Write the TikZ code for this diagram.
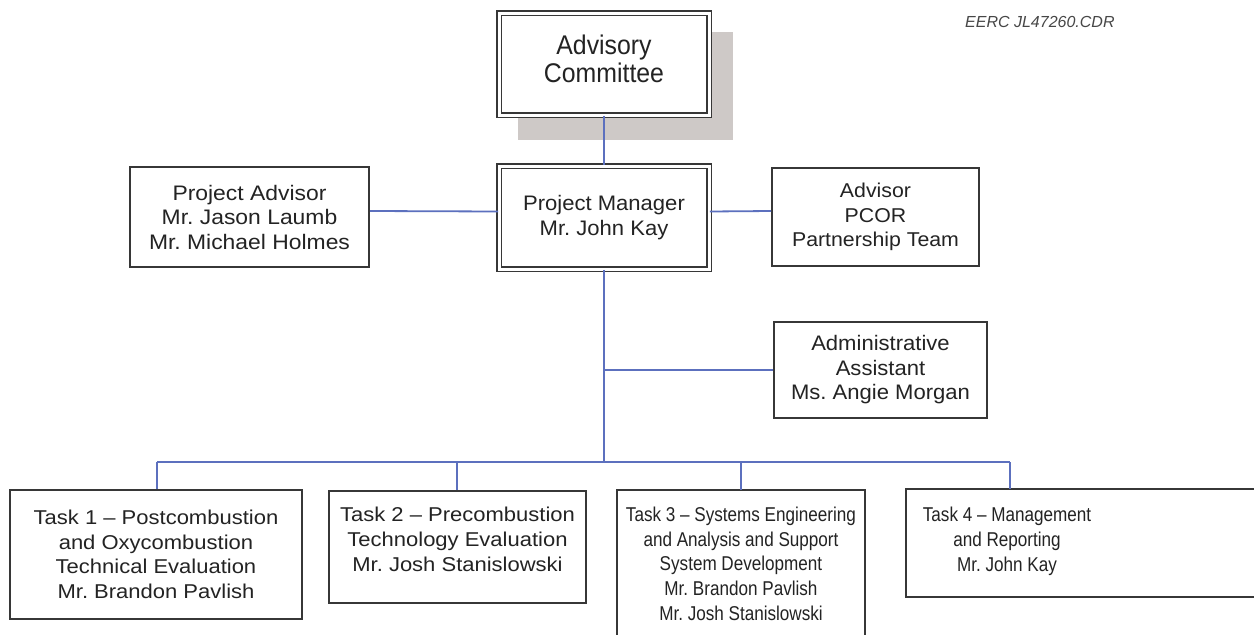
\documentclass[tikz,border=0pt]{standalone}
\usepackage{fontspec}
\setmainfont[Ligatures=TeX]{Liberation Sans}
\newfontfamily\stA[Ligatures=TeX,FakeStretch=0.92]{Liberation Sans}
\newfontfamily\stB[Ligatures=TeX,FakeStretch=1.05]{Liberation Sans}
\newfontfamily\stC[Ligatures=TeX,FakeStretch=1.09]{Liberation Sans}
\newfontfamily\stD[Ligatures=TeX,FakeStretch=1.065]{Liberation Sans}
\newfontfamily\stE[Ligatures=TeX,FakeStretch=1.1]{Liberation Sans}
\newfontfamily\stF[Ligatures=TeX,FakeStretch=0.855]{Liberation Sans}
\usetikzlibrary{calc}
\definecolor{conncol}{RGB}{92,112,190}
\definecolor{boxcol}{RGB}{55,55,55}
\definecolor{txtcol}{RGB}{35,35,35}
\definecolor{shadowcol}{RGB}{206,201,199}
\tikzset{
  x=1pt, y=-1pt,
  conn/.style={draw=conncol, line width=1.8pt},
  boxline/.style={draw=boxcol, line width=2pt},
  plainbox/.style={boxline, fill=white, text=txtcol, align=center, inner sep=0pt},
  dblbox/.style={draw=boxcol, line width=1.6pt, double=white, double distance=3pt,
    fill=white, text=txtcol, align=center, inner sep=0pt},
  boxtext/.style={text=txtcol, align=center, inner sep=0pt},
}
\begin{document}
\frenchspacing
\begin{tikzpicture}
\useasboundingbox (0,0) rectangle (1254,635);
\clip (0,0) rectangle (1254,635);
\fill[white] (0,0) rectangle (1254,635);

% label
\node[anchor=base west, inner sep=0pt, text=black!72,
  font=\fontsize{16}{18}\selectfont\itshape] (code) at (965,27) {EERC JL47260.CDR};

% shadow of advisory committee
\fill[shadowcol] (518,32) rectangle (733,140);

% top boxes
\node[dblbox, minimum width=210, minimum height=102] (ac) at (604,64) {};
\node[boxtext, font=\stA\fontsize{27}{28}\selectfont] (actxt) at (604,59.2) {Advisory\\Committee};
\node[dblbox, minimum width=210, minimum height=103,
  font=\stB\fontsize{21}{25}\selectfont] (pm) at (604,217.5) {Project Manager\\Mr. John Kay};

\node[plainbox, minimum width=239, minimum height=100,
  font=\stC\fontsize{21}{24.5}\selectfont] (pa) at (249.5,217)
  {Project Advisor\\Mr. Jason Laumb\\Mr. Michael Holmes};
\node[plainbox, minimum width=207, minimum height=98,
  font=\stD\fontsize{20}{24.5}\selectfont] (pcor) at (875.5,217)
  {Advisor\\PCOR\\Partnership Team};
\node[plainbox, minimum width=213, minimum height=96,
  font=\stB\fontsize{21}{24.5}\selectfont] (admin) at (880.5,370)
  {Administrative\\Assistant\\Ms. Angie Morgan};

% task boxes
\node[plainbox, minimum width=292, minimum height=129,
  font=\stE\fontsize{20}{24.6}\selectfont] (t1) at (156,554.5)
  {Task 1 – Postcombustion\\and Oxycombustion\\Technical Evaluation\\Mr. Brandon Pavlish};

\node[plainbox, minimum width=257, minimum height=112] (t2) at (457.5,547) {};
\node[boxtext, font=\stE\fontsize{20}{24.6}\selectfont] (t2txt) at (457.5,539.3)
  {Task 2 – Precombustion\\Technology Evaluation\\Mr. Josh Stanislowski};

% Task 3 box runs past the lower edge
\draw[boxline, fill=white] (617,490) rectangle (865,660);
\node[boxtext, anchor=north, font=\stF\fontsize{20}{24.6}\selectfont] (t3) at (741,507)
  {Task 3 – Systems Engineering\\and Analysis and Support\\System Development\\Mr. Brandon Pavlish\\Mr. Josh Stanislowski};
\coordinate (t3top) at (741,490);

% Task 4 box runs past the right edge
\draw[boxline, fill=white] (906,489) rectangle (1270,597);
\node[boxtext, font=\stF\fontsize{20}{24.6}\selectfont] (t4) at (1007,541.4)
  {Task 4 – Management\\and Reporting\\Mr. John Kay};
\coordinate (t4top) at (1010,489);

% connectors
\draw[conn] (ac.south) -- (pm.north);
\draw[conn] ($(pa.east)+(0,-6)$) -- ($(pm.west)+(0,-6)$);
\draw[conn] ($(pm.east)+(0,-6)$) -- ($(pcor.west)+(0,-6)$);
\coordinate (bus) at (604,462);
\coordinate (b1) at (157,462);
\coordinate (b2) at (457,462);
\coordinate (b3) at (741,462);
\coordinate (b4) at (1010,462);
\draw[conn] (pm.south) -- (bus);
\draw[conn] (pm.south |- admin.west) -- (admin.west);
\draw[conn] (b1) -- (b4);
\draw[conn] (b1) -- (b1 |- t1.north);
\draw[conn] (b2) -- (b2 |- t2.north);
\draw[conn] (b3) -- (t3top);
\draw[conn] (b4) -- (t4top);
\end{tikzpicture}
\end{document}
